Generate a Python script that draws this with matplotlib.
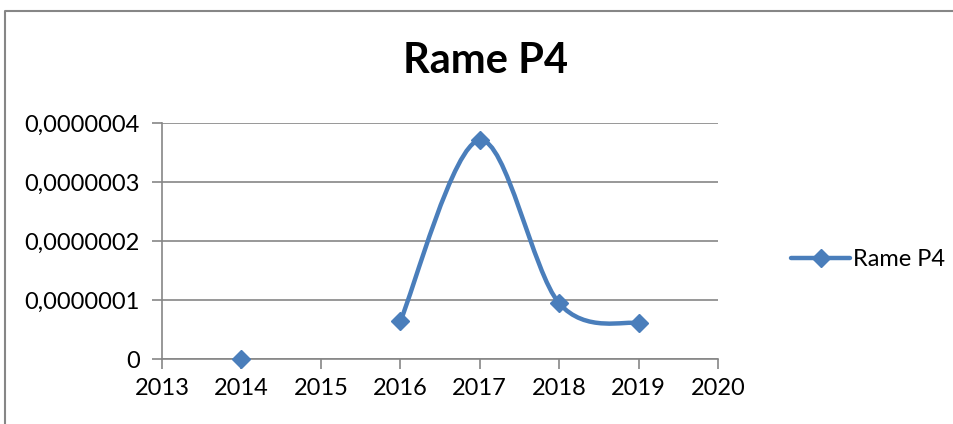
import numpy as np
import matplotlib.pyplot as plt
from matplotlib.path import Path
from matplotlib.patches import PathPatch
from matplotlib.lines import Line2D

# data
years = [2014, 2016, 2017, 2018, 2019]
values = [0.0, 0.64e-7, 3.71e-7, 0.945e-7, 0.605e-7]
smooth_years = years[1:]      # 2015 is missing, so the line starts at 2016
smooth_values = values[1:]
yticks = [0, 1e-7, 2e-7, 3e-7, 4e-7]
ytick_labels = ['0', '0,0000001', '0,0000002', '0,0000003', '0,0000004']
xticks = [2013, 2014, 2015, 2016, 2017, 2018, 2019, 2020]

blue = '#4A7EBB'
grey = '#868686'
plt.rcParams['font.family'] = ['Lato', 'DejaVu Sans']


def smooth_path(xs, ys):
    # excel-like smoothed line: cubic bezier, catmull-rom control points
    pts = np.column_stack([xs, ys]).astype(float)
    n = len(pts)
    verts = [pts[0]]
    codes = [Path.MOVETO]
    for i in range(n - 1):
        p0 = pts[max(i - 1, 0)]
        p1 = pts[i]
        p2 = pts[i + 1]
        p3 = pts[min(i + 2, n - 1)]
        c1 = p1 + (p2 - p0) / 6
        c2 = p2 - (p3 - p1) / 6
        verts += [c1, c2, p2]
        codes += [Path.CURVE4] * 3
    return Path(verts, codes)


fig = plt.figure(figsize=(9.54, 4.24), dpi=100)
ax = fig.add_axes([162 / 954, 1 - 359 / 424, (718 - 162) / 954, (359 - 123) / 424])

# outer chart frame, only left and top edges are inside the picture
fx, fy = 5 / 954, 1 - 11 / 424
fig.lines.append(Line2D([fx, fx, 1.0], [0.0, fy, fy], transform=fig.transFigure,
                        color=grey, linewidth=1.5))

ax.add_patch(PathPatch(smooth_path(smooth_years, smooth_values), fill=False,
                       edgecolor=blue, linewidth=3.2, capstyle='round', zorder=3))
ax.plot(years, values, linestyle='none', marker='D', markersize=9,
        color=blue, markeredgecolor=blue, zorder=4, clip_on=False)

ax.set_xlim(2013, 2020)
ax.set_ylim(0, 4e-7)
ax.set_xticks(xticks)
ax.set_xticklabels([str(x) for x in xticks])
ax.set_yticks(yticks)
ax.set_yticklabels(ytick_labels)
ax.tick_params(axis='both', direction='out', length=7, width=1.2, color=grey,
               labelsize=17, labelcolor='black')
ax.tick_params(axis='y', pad=9)
ax.tick_params(axis='x', pad=7)
ax.grid(axis='y', color=grey, linewidth=1.2)
ax.set_axisbelow(True)
for s in ['top', 'right']:
    ax.spines[s].set_visible(False)
for s in ['left', 'bottom']:
    ax.spines[s].set_color(grey)
    ax.spines[s].set_linewidth(1.2)

fig.text(486 / 954, 1 - 61 / 424, 'Rame P4', ha='center', va='center',
         fontsize=30, fontweight='bold')

handle = Line2D([], [], color=blue, linewidth=3.2, marker='D', markersize=9,
                solid_capstyle='round')
fig.legend([handle], ['Rame P4'], loc='center left', bbox_to_anchor=(770 / 954, 1 - 260 / 424),
           frameon=False, fontsize=17, handlelength=2.5, handletextpad=0.1)

fig.savefig('out.png', dpi=100)
